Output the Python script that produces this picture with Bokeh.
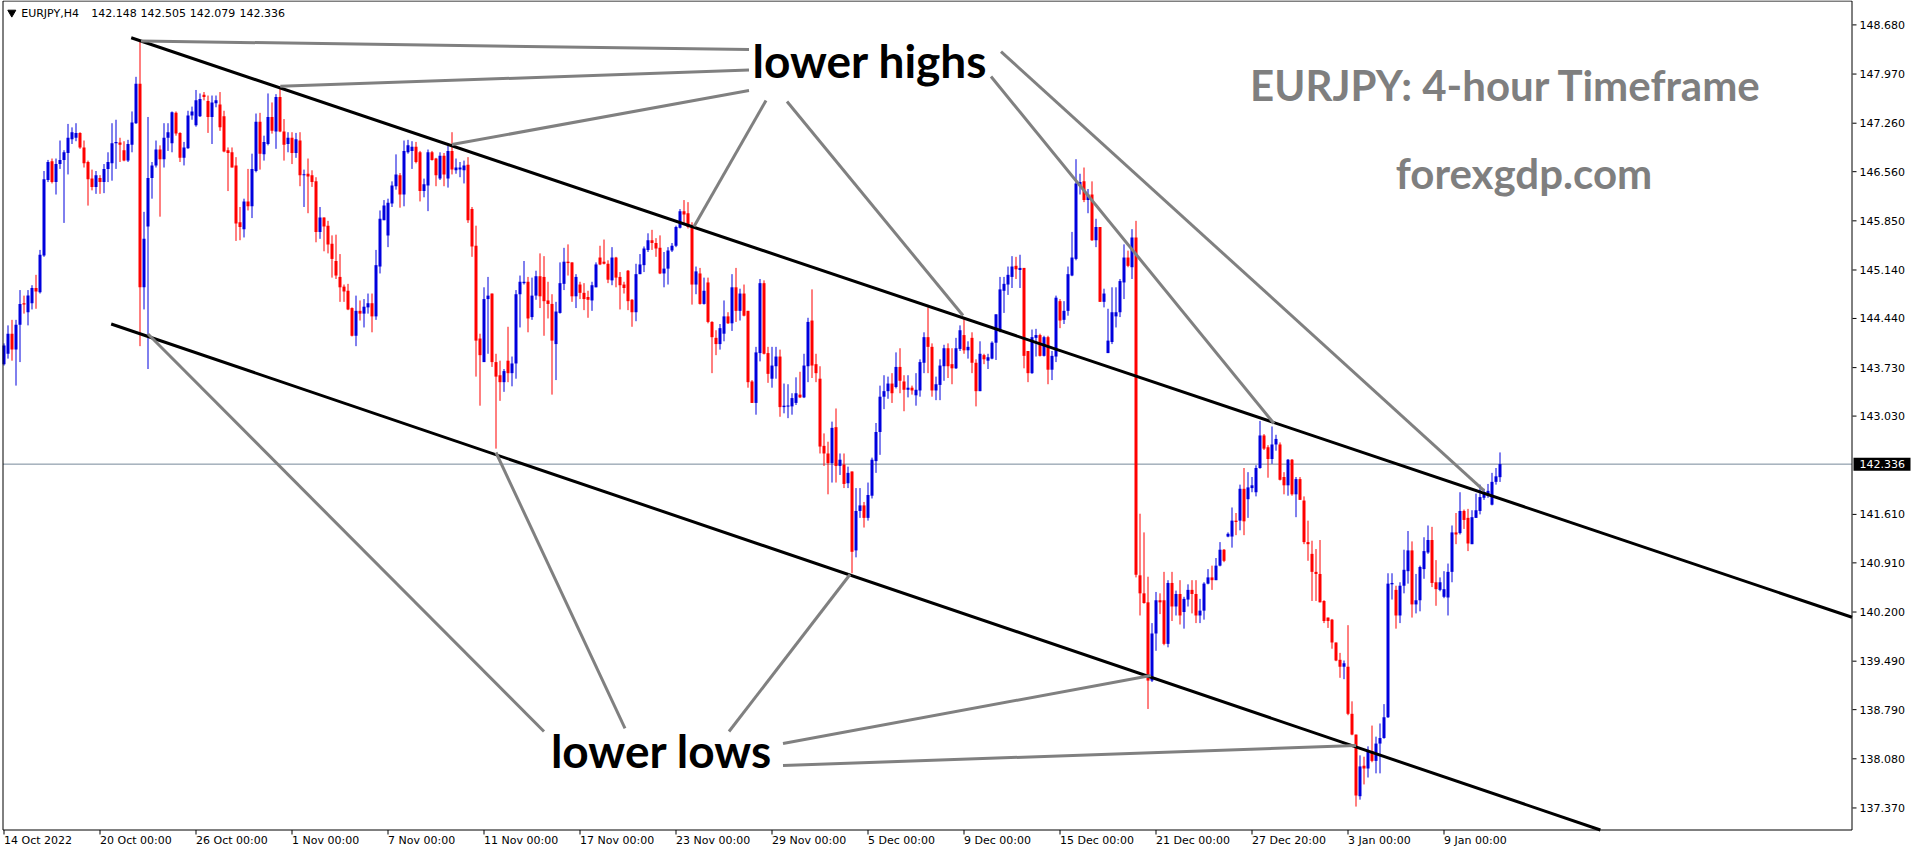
import numpy as np
from bokeh.plotting import figure
from bokeh.models import Range1d, ColumnDataSource
from bokeh.core.properties import value
from bokeh.embed import file_html
from bokeh.resources import INLINE

# ---------------- data (EURJPY H4, one value per bar) ----------------
open_ = [
    143.78,143.93,144.22,143.99,144.35,144.66,144.53,144.66,144.88,144.82,
    145.35,146.44,146.71,146.41,146.67,146.73,146.83,147.03,147.05,147.12,
    146.91,146.70,146.46,146.34,146.47,146.41,146.60,146.68,146.97,146.98,
    146.87,146.72,146.95,147.26,147.83,144.89,145.77,146.47,146.65,146.88,
    146.74,147.05,146.97,147.41,147.12,146.76,146.90,147.37,147.23,147.36,
    147.67,147.58,147.35,147.55,147.53,147.36,146.87,146.84,146.65,145.83,
    145.73,146.13,146.06,146.57,147.28,146.81,146.96,147.35,147.14,147.64,
    147.14,146.96,147.05,146.83,147.01,146.51,146.53,146.51,146.42,145.69,
    145.90,145.78,145.52,145.27,145.04,144.90,144.84,144.59,144.19,144.55,
    144.51,144.60,144.66,144.47,145.19,145.86,145.64,146.10,146.35,146.51,
    146.23,146.84,146.86,146.92,146.84,146.28,146.36,146.84,146.75,146.46,
    146.79,146.46,146.86,146.58,146.59,146.58,146.66,146.02,145.49,144.15,
    143.81,144.72,144.80,143.81,143.62,143.52,143.83,143.65,143.79,144.79,
    144.95,144.97,144.46,144.77,145.05,145.04,144.70,144.65,144.07,144.52,
    144.94,145.26,145.25,144.76,144.93,144.81,144.75,144.70,144.89,145.32,
    145.26,145.23,144.99,145.32,145.04,144.93,145.13,144.71,144.53,145.08,
    145.21,145.43,145.57,145.53,145.46,145.09,145.16,145.42,145.49,145.75,
    145.99,145.96,145.77,144.93,145.09,144.65,144.96,144.39,144.16,144.07,
    144.22,144.47,144.37,144.89,144.55,144.80,144.55,143.53,143.22,143.94,
    144.95,143.94,143.57,143.75,143.89,143.16,143.17,143.17,143.22,143.34,
    143.30,143.75,144.41,143.78,143.57,142.60,142.49,142.35,142.87,142.31,
    142.33,142.06,142.23,141.09,141.66,141.74,141.56,141.88,142.38,142.80,
    143.31,143.39,143.50,143.45,143.74,143.53,143.41,143.44,143.33,143.40,
    143.80,144.17,144.03,143.40,143.48,143.75,144.01,143.78,143.72,144.00,
    144.20,143.98,144.16,143.80,143.39,143.91,143.83,143.86,144.09,144.27,
    144.84,144.93,145.04,145.20,145.14,145.17,143.97,143.65,144.16,144.20,
    143.90,144.17,143.70,143.89,144.69,144.42,144.55,145.06,145.30,146.36,
    146.42,146.15,146.23,145.57,145.76,144.68,143.94,144.10,144.47,144.53,
    144.96,145.32,145.18,145.61,140.73,140.47,140.34,139.21,139.89,140.37,
    140.37,139.74,140.62,140.28,140.46,140.20,140.38,140.52,140.46,140.15,
    140.22,140.61,140.70,140.66,140.87,141.10,141.29,141.29,141.52,141.52,
    141.98,141.83,141.99,141.93,142.28,142.75,142.58,142.41,142.62,142.62,
    142.15,142.03,142.40,141.90,142.12,141.81,141.21,141.04,140.78,140.75,
    140.36,140.12,140.09,139.76,139.51,139.41,139.41,138.73,138.43,137.54,
    137.98,137.94,138.19,138.05,138.30,138.38,138.68,140.60,140.52,140.15,
    140.58,140.79,141.09,140.31,140.37,140.82,141.06,141.24,140.63,140.52,
    140.42,140.41,140.78,141.35,141.34,141.66,141.56,141.18,141.56,141.66,
    141.85,141.88,141.75,142.08,142.148,
]
high = [
    144.08,144.34,144.42,144.42,144.85,144.77,144.85,144.92,145.07,145.43,
    146.57,146.73,146.75,146.75,147.01,146.87,147.25,147.20,147.26,147.13,
    147.01,146.72,146.59,146.57,146.51,146.67,146.84,147.26,147.31,147.05,
    147.00,147.02,147.43,147.93,148.45,145.98,147.35,146.70,147.01,146.94,
    147.26,147.26,147.43,147.43,147.13,146.99,147.44,147.50,147.74,147.69,
    147.71,147.66,147.66,147.66,147.71,147.44,146.91,146.91,146.77,146.05,
    146.17,146.60,146.82,147.40,147.41,147.08,147.69,147.56,147.68,147.78,
    147.32,147.13,147.13,147.12,147.13,146.59,146.75,146.58,146.48,146.05,
    145.90,145.85,145.64,145.65,145.37,144.93,144.94,144.60,144.77,144.70,
    144.72,144.80,144.80,145.43,146.00,146.15,146.17,146.42,146.81,146.54,
    147.01,147.02,147.00,146.99,146.86,146.46,146.88,146.86,146.76,146.84,
    146.83,146.94,147.13,146.75,146.70,146.72,146.77,146.05,145.78,144.22,
    144.89,145.04,144.80,143.93,143.83,143.71,144.32,143.89,144.85,145.06,
    145.27,145.04,145.03,145.13,145.38,145.34,144.97,144.79,144.68,145.25,
    145.46,145.51,145.25,145.08,144.97,144.95,144.84,144.97,145.25,145.49,
    145.58,145.28,145.47,145.33,145.11,144.97,145.14,144.72,145.23,145.37,
    145.48,145.67,145.72,145.60,145.64,145.40,145.47,145.53,145.78,146.02,
    146.15,146.12,145.83,145.19,145.17,145.03,145.03,144.40,144.27,144.36,
    144.70,144.53,145.08,145.17,144.87,144.93,144.55,143.55,144.03,145.01,
    144.99,144.03,144.03,144.03,143.99,143.50,143.49,143.36,143.59,143.67,
    143.93,144.45,144.86,143.93,143.75,142.78,142.66,142.95,143.14,142.49,
    142.49,142.30,142.23,141.99,141.99,141.79,142.07,142.43,142.93,143.47,
    143.62,143.60,143.65,143.95,144.01,143.62,143.62,143.47,143.65,143.85,
    144.24,144.60,144.08,143.60,143.85,144.06,144.08,144.01,144.16,144.34,
    144.45,144.11,144.24,143.85,144.11,143.93,143.93,144.11,144.50,145.04,
    145.04,145.19,145.34,145.33,145.36,145.17,143.97,144.28,144.29,144.22,
    144.19,144.19,143.97,144.77,144.72,144.69,145.19,145.69,146.74,146.53,
    146.62,146.31,146.42,145.88,145.76,144.87,144.58,144.89,144.89,145.01,
    145.51,145.42,145.73,145.85,141.62,141.35,140.71,140.04,140.49,140.47,
    140.78,140.66,140.78,140.51,140.66,140.42,140.60,140.66,140.66,140.39,
    140.63,140.82,140.87,140.98,141.21,141.11,141.35,141.71,141.63,142.04,
    142.28,142.22,142.15,142.32,142.96,142.77,142.61,142.88,142.76,142.65,
    142.22,142.41,142.41,142.15,142.15,141.87,141.52,141.23,141.11,141.24,
    140.37,140.12,140.10,139.76,139.61,139.50,140.01,138.91,138.43,138.13,
    138.11,138.26,138.56,138.40,138.59,138.87,140.76,140.76,140.58,140.63,
    141.10,141.37,141.22,140.75,140.87,141.28,141.45,141.43,140.95,140.70,
    140.79,140.90,141.45,141.63,141.93,141.68,141.69,141.67,141.91,142.04,
    141.98,142.05,142.21,142.28,142.505,
]
low = [
    143.76,143.86,143.83,143.47,143.81,144.51,144.34,144.57,144.58,144.80,
    145.33,146.41,146.39,146.23,146.60,145.82,146.52,146.96,147.00,146.89,
    146.62,146.07,146.29,146.24,146.24,146.25,146.41,146.43,146.60,146.70,
    146.71,146.70,146.84,147.25,144.04,144.57,143.71,146.17,146.62,145.91,
    146.62,146.86,146.84,147.08,146.70,146.65,146.89,147.31,147.21,147.35,
    147.59,147.12,146.96,147.49,147.15,146.84,146.28,146.62,145.56,145.57,
    145.61,146.00,145.89,146.55,146.59,146.72,146.94,147.11,146.89,147.13,
    146.72,146.84,146.67,146.76,146.35,146.05,145.96,146.34,145.54,145.59,
    145.41,145.38,145.03,145.01,144.68,144.68,144.56,144.18,144.04,144.41,
    144.31,144.51,144.24,144.42,145.09,145.86,145.47,146.05,146.30,146.04,
    146.06,146.82,146.60,146.68,146.13,146.19,145.99,146.72,146.35,146.44,
    146.35,146.33,146.52,146.53,146.48,146.39,145.82,145.33,143.60,143.18,
    143.81,143.93,143.74,142.56,143.25,143.38,143.52,143.46,143.57,144.31,
    144.93,144.24,144.42,144.71,144.59,144.19,144.44,143.34,143.55,144.51,
    144.85,145.06,144.68,144.59,144.72,144.56,144.45,144.55,144.89,145.21,
    145.22,144.95,144.92,144.89,144.57,144.80,144.56,144.32,144.40,145.08,
    145.11,145.40,145.43,145.33,145.08,144.89,144.93,145.40,145.47,145.74,
    145.80,145.74,144.64,144.79,144.64,144.64,144.37,143.65,143.91,143.99,
    144.11,144.36,144.26,144.39,144.41,144.47,143.44,143.22,143.05,143.82,
    143.92,143.51,143.44,143.57,143.02,143.07,143.00,143.05,143.19,143.29,
    143.29,143.52,143.58,143.52,142.49,142.31,141.90,142.07,142.07,142.18,
    141.99,141.99,140.76,140.99,141.56,141.42,141.52,141.84,142.21,142.47,
    143.13,143.28,143.22,143.43,143.36,143.10,143.30,143.34,143.18,143.31,
    143.65,143.65,143.31,143.26,143.26,143.54,143.58,143.49,143.71,143.97,
    143.93,143.86,143.65,143.17,143.39,143.78,143.71,143.85,143.84,144.24,
    144.52,144.78,144.88,145.01,144.88,143.72,143.52,143.64,143.89,143.89,
    143.89,143.49,143.55,143.81,144.30,144.36,144.48,145.05,145.28,146.23,
    146.12,145.96,145.56,145.47,144.68,144.60,143.94,144.07,144.31,144.46,
    144.72,145.18,145.01,140.70,140.15,140.32,138.80,139.19,139.64,140.17,
    139.72,139.69,140.07,140.15,140.02,139.96,140.28,140.18,140.04,140.04,
    140.09,140.60,140.52,140.66,140.86,140.92,141.28,141.13,141.31,141.38,
    141.31,141.56,141.93,141.87,142.27,142.54,142.14,142.34,142.53,142.10,
    141.90,141.88,141.88,141.57,141.82,141.18,140.94,140.36,140.36,140.34,
    140.04,139.97,139.67,139.49,139.25,139.23,138.71,138.42,137.39,137.49,
    137.71,137.81,138.03,137.87,137.87,138.37,138.67,140.38,139.96,140.04,
    140.47,140.61,140.12,140.18,140.21,140.68,141.04,140.56,140.29,140.50,
    140.40,140.15,140.63,141.18,141.32,141.40,141.08,141.18,141.56,141.61,
    141.82,141.85,141.74,142.04,142.079,
]
close = [
    144.05,144.22,143.99,144.35,144.65,144.64,144.77,144.88,144.83,145.36,
    146.45,146.70,146.41,146.67,146.73,146.84,147.05,147.13,147.12,146.91,
    146.68,146.45,146.34,146.51,146.41,146.60,146.70,146.97,146.99,146.95,
    146.72,146.96,147.27,147.83,144.89,145.59,146.47,146.65,146.88,146.74,
    147.05,147.13,147.42,147.11,146.76,146.91,147.37,147.43,147.59,147.61,
    147.64,147.35,147.56,147.59,147.20,146.85,146.83,146.62,145.81,145.76,
    146.13,146.06,146.60,147.28,146.82,146.99,147.35,147.15,147.64,147.14,
    146.95,147.05,146.83,147.03,146.51,146.52,146.49,146.41,145.69,145.90,
    145.77,145.51,145.30,145.06,144.89,144.83,144.57,144.19,144.55,144.51,
    144.61,144.66,144.47,145.21,145.88,146.07,146.11,146.36,146.52,146.23,
    146.86,146.94,146.92,146.70,146.28,146.38,146.84,146.73,146.51,146.79,
    146.52,146.86,146.59,146.62,146.62,146.65,145.86,145.48,144.12,143.91,
    144.72,144.77,143.81,143.60,143.52,143.68,143.65,143.79,144.79,144.97,
    144.97,144.44,144.77,145.05,144.76,144.69,144.65,144.12,144.54,144.95,
    145.26,145.24,144.76,145.04,144.81,144.72,144.71,144.92,145.22,145.22,
    145.23,145.00,145.32,145.03,144.92,144.88,144.69,144.53,145.08,145.22,
    145.45,145.57,145.53,145.45,145.09,145.16,145.42,145.49,145.76,145.99,
    145.94,145.76,144.93,145.12,144.65,144.84,144.39,144.17,144.07,144.30,
    144.47,144.37,144.89,144.55,144.80,144.48,143.52,143.22,143.95,144.95,
    143.93,143.64,143.76,143.89,143.16,143.18,143.18,143.29,143.36,143.30,
    143.76,144.39,143.76,143.65,142.59,142.49,142.35,142.86,142.31,142.40,
    142.05,142.21,141.07,141.66,141.74,141.56,141.89,142.40,142.80,143.31,
    143.39,143.50,143.36,143.74,143.54,143.41,143.44,143.40,143.41,143.81,
    144.17,144.03,143.40,143.49,143.76,144.01,143.75,143.72,144.01,144.27,
    143.98,144.03,143.80,143.39,143.93,143.85,143.88,144.09,144.50,144.86,
    144.94,145.07,145.19,145.15,145.17,143.90,143.65,144.17,144.20,143.90,
    144.17,143.70,143.90,144.74,144.41,144.55,145.08,145.32,146.39,146.41,
    146.15,146.23,145.57,145.76,144.68,144.80,144.12,144.53,144.53,144.98,
    145.32,145.20,145.61,140.74,140.47,140.33,139.21,139.89,140.37,140.34,
    139.74,140.62,140.28,140.46,140.15,140.39,140.52,140.46,140.15,140.22,
    140.61,140.70,140.66,140.87,141.10,140.94,141.33,141.52,141.50,141.98,
    141.51,142.00,142.03,142.28,142.75,142.56,142.41,142.62,142.70,142.11,
    142.03,142.40,141.90,142.12,141.82,141.21,141.18,140.78,140.75,140.34,
    140.07,140.07,139.76,139.50,139.41,139.46,138.73,138.43,137.55,137.97,
    137.94,138.19,138.05,138.30,138.38,138.68,140.61,140.62,140.15,140.58,
    140.81,141.09,140.31,140.37,140.85,141.08,141.24,140.62,140.53,140.63,
    140.53,140.78,141.35,141.32,141.66,141.53,141.19,141.57,141.67,141.86,
    141.91,141.95,142.08,142.16,142.336,
]

x_tick_bars = [0, 24, 48, 72, 96, 120, 144, 168, 192, 216, 240, 264, 288, 312, 336, 360]
x_tick_labels = ["14 Oct 2022", "20 Oct 00:00", "26 Oct 00:00", "1 Nov 00:00", "7 Nov 00:00",
                 "11 Nov 00:00", "17 Nov 00:00", "23 Nov 00:00", "29 Nov 00:00", "5 Dec 00:00",
                 "9 Dec 00:00", "15 Dec 00:00", "21 Dec 00:00", "27 Dec 20:00", "3 Jan 00:00",
                 "9 Jan 00:00"]
y_tick_values = [148.68, 147.97, 147.26, 146.56, 145.85, 145.14, 144.44, 143.73, 143.03,
                 141.61, 140.91, 140.20, 139.49, 138.79, 138.08, 137.37]
last_price = 142.336
header_tokens = ["EURJPY,H4", "142.148", "142.505", "142.079", "142.336"]

# channel lines (bar index, price)
upper_x = [31.8, 462.0]
upper_y = [148.494, 140.125]
lower_x = [26.8, 399.1]
lower_y = [144.360, 137.052]

# pointer lines from the annotation words (bar index, price)
hi_x0 = [34.25, 69.08, 112.0, 172.5, 195.75, 246.75, 249.25]
hi_y0 = [148.447, 147.794, 146.952, 145.768, 147.573, 147.934, 148.295]
hi_x1 = [186.25, 186.25, 186.25, 190.5, 239.75, 317.5, 370.0]
hi_y1 = [148.324, 148.027, 147.732, 147.588, 144.483, 142.923, 141.955]
lo_x0 = [36.0, 123.0, 211.5, 194.75, 194.75]
lo_y0 = [144.215, 142.504, 140.742, 138.301, 137.983]
lo_x1 = [135.0, 155.25, 181.25, 286.75, 338.0]
lo_y1 = [138.474, 138.518, 138.474, 139.283, 138.272]

BULL = "#0000dd"
BEAR = "#ff0000"
LABEL_FONT = "DejaVu Sans"

# ---------------- page layout helpers (pixels -> chart units) ----------------
W, H = 1912, 848
X_BAR0 = 3.5          # page x of the first bar
PX_PER_BAR = 4.0
PRICE_AT_TOP = 149.0324
PRICE_PER_PX = 0.0144432


def bx(px):
    return (px - X_BAR0) / PX_PER_BAR


def py(pix):
    return PRICE_AT_TOP - pix * PRICE_PER_PX


FR_L, FR_R, FR_T, FR_B = bx(2.5), bx(1851.5), py(0.5), py(829.5)

p = figure(width=W, height=H,
           x_range=Range1d(bx(0), bx(W)), y_range=Range1d(py(H), py(0)),
           output_backend="svg", toolbar_location=None,
           x_axis_location=None, y_axis_location=None, min_border=0,
           background_fill_color="white", border_fill_color="white",
           styles={"position": "absolute", "left": "0px", "top": "0px"})
p.grid.visible = False
p.outline_line_color = None

# bid line
p.segment(x0=[FR_L], y0=[last_price], x1=[FR_R], y1=[last_price], line_color="#778899", line_width=1)

# candles
o = np.array(open_)
c = np.array(close)
idx = np.arange(len(c))
up = c >= o
colors = np.where(up, BULL, BEAR)
top = np.maximum(o, c)
bot = np.minimum(o, c)
mid = (top + bot) / 2
small = (top - bot) < 0.016
top = np.where(small, mid + 0.008, top)
bot = np.where(small, mid - 0.008, bot)
src = ColumnDataSource(dict(x=idx, top=top, bottom=bot, high=high, low=low, color=colors))
p.segment(x0="x", y0="low", x1="x", y1="high", line_color="color", line_width=1, source=src)
p.vbar(x="x", width=0.75, top="top", bottom="bottom", fill_color="color", line_color=None, source=src)

# channel lines
p.line(upper_x, upper_y, line_color="black", line_width=3)
p.line(lower_x, lower_y, line_color="black", line_width=3)

# pointer lines
p.segment(x0=hi_x0, y0=hi_y0, x1=hi_x1, y1=hi_y1, line_color="#808080", line_width=3)
p.segment(x0=lo_x0, y0=lo_y0, x1=lo_x1, y1=lo_y1, line_color="#808080", line_width=3)

# chart frame (price-axis line on the right, time-axis line at the bottom)
p.line(x=[FR_L, FR_R, FR_R, FR_L, FR_L], y=[FR_T, FR_T, FR_B, FR_B, FR_T], line_color="black", line_width=1)

# price axis: ticks and labels
p.segment(x0=[bx(1852)] * len(y_tick_values), y0=y_tick_values,
          x1=[bx(1856)] * len(y_tick_values), y1=y_tick_values, line_color="black", line_width=1)
p.text(x=[bx(1859)] * len(y_tick_values), y=y_tick_values, text=[f"{v:.3f}" for v in y_tick_values],
       text_font=value(LABEL_FONT), text_font_size="11px", text_color="black",
       text_align="left", text_baseline="middle")

# last price box
half = 6.5 * PRICE_PER_PX
p.quad(left=[bx(1853)], right=[bx(1910)], bottom=[last_price - half], top=[last_price + half],
       fill_color="black", line_color=None)
p.text(x=[bx(1859)], y=[last_price], text=[f"{last_price:.3f}"], text_font=value(LABEL_FONT),
       text_font_size="11px", text_color="white", text_align="left", text_baseline="middle")

# time axis: ticks and labels (labels start at the tick, like the terminal)
p.segment(x0=x_tick_bars, y0=[FR_B] * len(x_tick_bars), x1=x_tick_bars, y1=[py(834)] * len(x_tick_bars),
          line_color="black", line_width=1)
p.text(x=x_tick_bars, y=[py(840)] * len(x_tick_bars), text=x_tick_labels,
       text_font=value(LABEL_FONT), text_font_size="11px", text_color="black",
       text_align="left", text_baseline="middle")

# annotation words
p.text(x=[bx(869.5)], y=[py(60)], text=["lower highs"], text_font=value("Lato"), text_font_style="bold",
       text_font_size="46px", text_color="black", text_align="center", text_baseline="alphabetic")
p.text(x=[bx(661)], y=[py(750)], text=["lower lows"], text_font=value("Lato"), text_font_style="bold",
       text_font_size="46px", text_color="black", text_align="center", text_baseline="alphabetic")
p.text(x=[bx(1505.5)], y=[py(84)], text=["EURJPY: 4-hour Timeframe"], text_font=value("Lato"),
       text_font_style="bold", text_font_size="42px", text_color="#7f7f7f",
       text_align="center", text_baseline="alphabetic")
p.text(x=[bx(1523.5)], y=[py(172)], text=["forexgdp.com"], text_font=value("Lato"),
       text_font_style="bold", text_font_size="42px", text_color="#7f7f7f",
       text_align="center", text_baseline="alphabetic")

# header (symbol, timeframe and O/H/L/C of the last bar)
header_px = [20.7, 90.7, 140.0, 189.3, 239.0]
p.scatter(x=[bx(11.3)], y=[py(12)], marker="inverted_triangle", size=8, color="black")
p.text(x=[bx(v) for v in header_px], y=[py(12.7)] * len(header_tokens), text=header_tokens,
       text_font=value(LABEL_FONT), text_font_size="11px", text_color="black",
       text_align="left", text_baseline="middle")

open("out.html", "w").write(file_html(p, INLINE))
